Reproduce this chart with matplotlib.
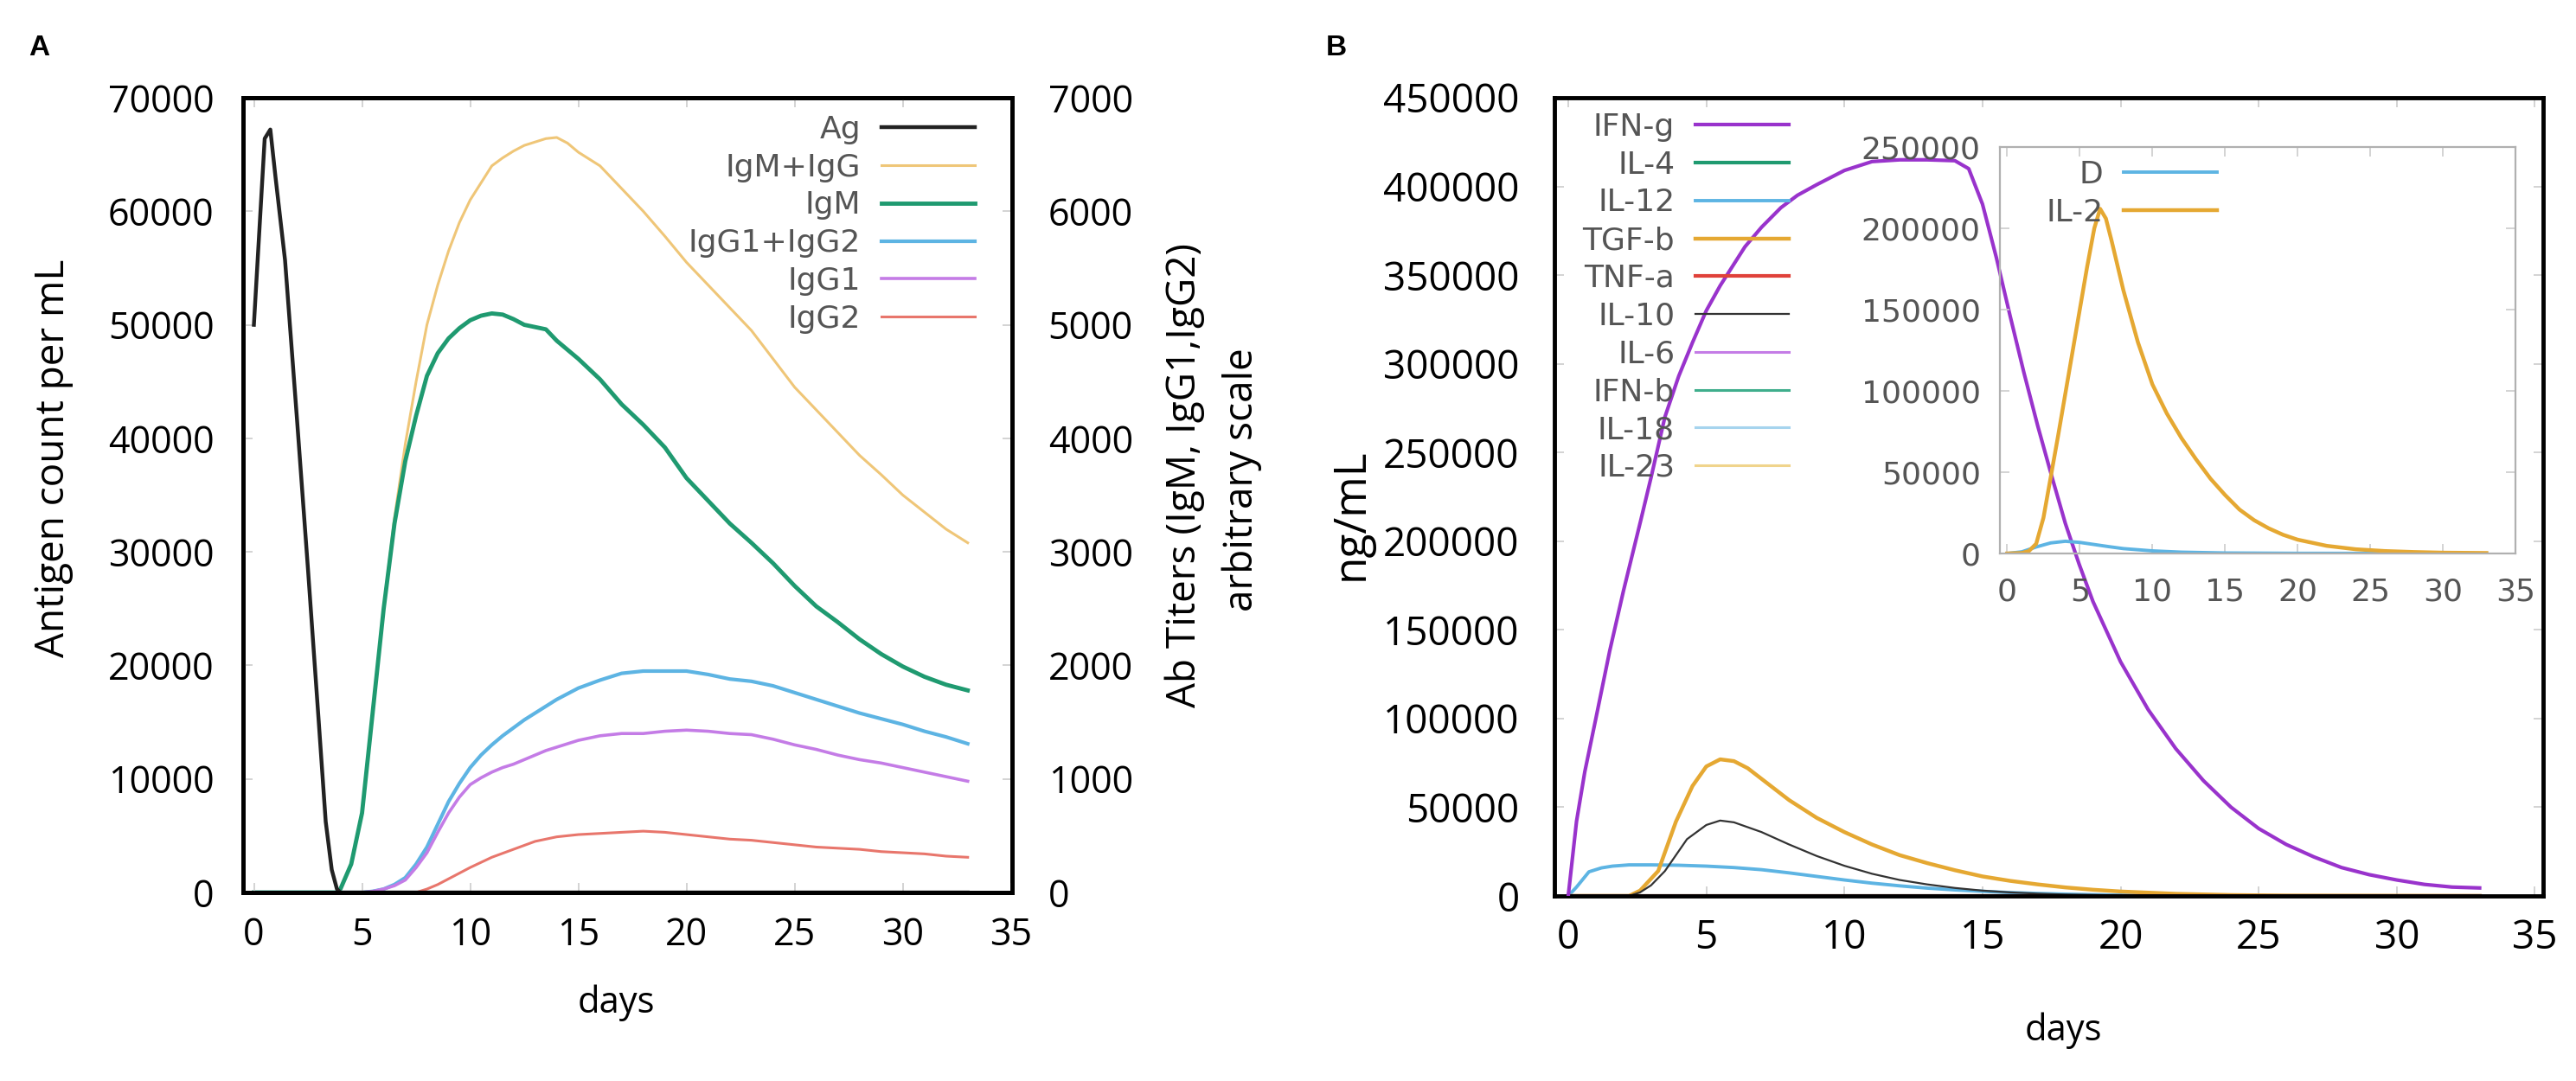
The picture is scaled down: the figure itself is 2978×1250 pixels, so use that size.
import numpy as np
import matplotlib.pyplot as plt

# ---------------- Panel A: antigen and antibody titers ----------------
ag_days = [0, 0.5, 0.76, 1.0, 1.44, 2.0, 2.5, 3.0, 3.32, 3.6, 3.84, 4.0, 33]
ag = [50000, 66400, 67200, 63000, 55700, 41500, 28500, 15000, 6250, 2000, 300, 0, 0]

ab_days = [0, 3.8, 4, 4.5, 5, 5.5, 6, 6.5, 7, 7.5, 8, 8.5, 9, 9.5, 10, 10.5, 11, 11.5,
           12, 12.5, 13, 13.5, 14, 14.5, 15, 16, 17, 18, 19, 20, 21, 22, 23, 24, 25,
           26, 27, 28, 29, 30, 31, 32, 33]
igm_igg = [0, 0, 30, 250, 700, 1600, 2500, 3300, 3950, 4500, 5000, 5350, 5650, 5900, 6100,
           6250, 6400, 6470, 6530, 6580, 6610, 6640, 6650, 6600, 6520, 6400, 6200, 6000,
           5780, 5550, 5350, 5150, 4950, 4700, 4450, 4250, 4050, 3850, 3680, 3500, 3350,
           3200, 3080]
igm = [0, 0, 30, 250, 700, 1600, 2500, 3250, 3800, 4200, 4550, 4750, 4880, 4970, 5040,
       5080, 5100, 5090, 5050, 5000, 4980, 4960, 4860, 4780, 4700, 4520, 4300, 4120, 3920,
       3650, 3450, 3250, 3080, 2900, 2700, 2520, 2380, 2230, 2100, 1990, 1900, 1830, 1780]
igg1_igg2 = [0, 0, 0, 0, 0, 10, 30, 70, 130, 250, 400, 600, 800, 960, 1100, 1210, 1300,
             1380, 1450, 1520, 1580, 1640, 1700, 1750, 1800, 1870, 1930, 1950, 1950, 1950,
             1920, 1880, 1860, 1820, 1760, 1700, 1640, 1580, 1530, 1480, 1420, 1370, 1310]
igg1 = [0, 0, 0, 0, 0, 10, 30, 60, 110, 220, 350, 530, 700, 840, 950, 1010, 1060, 1100,
        1130, 1170, 1210, 1250, 1280, 1310, 1340, 1380, 1400, 1400, 1420, 1430, 1420, 1400,
        1390, 1350, 1300, 1260, 1210, 1170, 1140, 1100, 1060, 1020, 980]
igg2 = [0, 0, 0, 0, 0, 0, 0, 0, 0, 0, 30, 70, 120, 170, 220, 265, 310, 345, 380, 415, 450,
        470, 490, 500, 510, 520, 530, 540, 530, 510, 490, 470, 460, 440, 420, 400, 390, 380,
        360, 350, 340, 320, 310]

# ---------------- Panel B: cytokines ----------------
ifng_days = [0, 0.3, 0.6, 1, 1.5, 2, 2.63, 3, 3.5, 4, 4.5, 5, 5.5, 6.4, 7, 7.7, 8.3, 9, 10,
             11, 12, 13, 14, 14.5, 15, 15.5, 16, 16.5, 17, 17.5, 18, 18.5, 19, 20, 21, 22,
             23, 24, 25, 26, 27, 28, 29, 30, 31, 32, 33]
ifng = [0, 42000, 70000, 100000, 138000, 172000, 212000, 236000, 270000, 293000, 312000,
        330000, 344000, 366000, 377000, 388000, 395000, 401000, 409000, 414000, 415000,
        415000, 414500, 410000, 390000, 360000, 327000, 295000, 265000, 237000, 210000,
        187000, 166000, 132000, 105000, 83000, 65000, 50000, 38000, 29000, 22000, 16000,
        12000, 9000, 6500, 5000, 4500]
tgfb_days = [0, 2.2, 2.6, 3.26, 3.9, 4.5, 5, 5.5, 6, 6.5, 7, 8, 9, 10, 11, 12, 13, 14, 15,
             16, 17, 18, 19, 20, 22, 24, 26, 33]
tgfb = [0, 0, 3000, 14100, 41900, 62000, 73000, 77000, 76000, 72000, 66000, 54000, 44000,
        36000, 29000, 23000, 18500, 14500, 11000, 8500, 6500, 4800, 3500, 2500, 1200, 500,
        200, 0]
il10_days = [0, 2.2, 2.6, 3, 3.5, 4.3, 5, 5.5, 6, 7, 8, 9, 10, 11, 12, 13, 14, 15, 16, 17,
             18, 20, 22, 33]
il10 = [0, 0, 2000, 6000, 14000, 32000, 40000, 42500, 41500, 36000, 29000, 22500, 17000,
        12500, 9000, 6500, 4500, 3000, 2000, 1300, 800, 300, 100, 0]
il12_days = [0, 0.3, 0.75, 1.2, 1.6, 2.2, 3, 4, 5, 6, 7, 8, 9, 10, 11, 12, 13, 14, 15, 16,
             17, 18, 19, 20, 22, 25, 33]
il12 = [0, 5000, 13600, 15800, 16800, 17500, 17500, 17300, 16800, 16000, 14800, 13000,
        11000, 9000, 7200, 5700, 4400, 3400, 2600, 1900, 1400, 1000, 700, 450, 150, 0, 0]
flat_days = [0, 33]
flat = [0, 0]

# inset: D and IL-2
d_days = [0, 1, 2, 3, 4, 5, 6, 7, 8, 10, 12, 15, 20, 33]
d_vals = [0, 1000, 4000, 6500, 7500, 6800, 5500, 4200, 3000, 1600, 800, 300, 100, 0]
il2_days = [0, 1, 1.5, 2, 2.5, 3, 3.5, 4, 4.5, 5, 5.5, 6, 6.4, 6.8, 7.2, 8, 9, 10, 11, 12,
            13, 14, 15, 16, 17, 18, 19, 20, 22, 24, 26, 28, 30, 33]
il2 = [0, 300, 1500, 6000, 22000, 47000, 72000, 98000, 124000, 150000, 176000, 200000,
       212000, 206000, 192000, 162000, 130000, 104000, 86000, 71000, 58000, 46000, 36000,
       27000, 20500, 15500, 11500, 8500, 4700, 2600, 1500, 900, 500, 300]

W, H = 2978, 1250
TICKFONT = 'Open Sans'
LEGFONT = 'DejaVu Sans'
GRAY_TXT = '#555555'


def box(l, t, r, b):
    # pixel box (left, top, right, bottom) -> figure fraction rect
    return [l / W, 1 - b / H, (r - l) / W, (b - t) / H]


def style_frame(ax, lw=3.5, color='black'):
    for s in ax.spines.values():
        s.set_linewidth(lw)
        s.set_color(color)


def gp_legend(ax, anchor_px, handles=None, labels=None):
    # gnuplot-like key: right-aligned text followed by the line sample
    kw = dict(loc='upper right', bbox_to_anchor=(anchor_px[0] / W, 1 - anchor_px[1] / H),
              bbox_transform=fig.transFigure, markerfirst=False, frameon=False,
              borderpad=0, borderaxespad=0, handlelength=3.0, handletextpad=0.65,
              labelspacing=0.27, prop={'family': LEGFONT, 'size': 26}, labelcolor=GRAY_TXT)
    if handles is not None:
        return ax.legend(handles, labels, **kw)
    return ax.legend(**kw)


fig = plt.figure(figsize=(W / 100, H / 100), dpi=100)

# ---------------- A ----------------
axA = fig.add_axes(box(281, 113, 1170, 1032))
axA2 = axA.twinx()
axA.set_zorder(axA2.get_zorder() + 1)
axA.patch.set_visible(False)

lines = []
lines += axA.plot(ag_days, ag, color='#222222', lw=3.2, label='Ag')
lines += axA2.plot(ab_days, igm_igg, color='#efc678', lw=2.2, label='IgM+IgG')
lines += axA2.plot(ab_days, igm, color='#1f9a70', lw=3.5, label='IgM')
lines += axA2.plot(ab_days, igg1_igg2, color='#5db4e3', lw=3.0, label='IgG1+IgG2')
lines += axA2.plot(ab_days, igg1, color='#c47ce6', lw=2.6, label='IgG1')
lines += axA2.plot(ab_days, igg2, color='#e8766c', lw=2.2, label='IgG2')

axA.set_xlim(-0.5, 35.05)
axA.set_ylim(0, 70000)
axA2.set_ylim(0, 7000)
axA.set_xticks(range(0, 36, 5))
axA.set_yticks(range(0, 70001, 10000))
axA2.set_yticks(range(0, 7001, 1000))
axA.tick_params(axis='y', direction='in', length=8, width=1.2, color='#cccccc',
                labelsize=31, pad=24, right=False)
axA.tick_params(axis='x', direction='in', length=8, width=1.2, color='#cccccc',
                labelsize=31, pad=20, top=True)
axA2.tick_params(axis='y', direction='in', length=8, width=1.2, color='#cccccc',
                 labelsize=31, pad=30)
for lab in axA.get_xticklabels() + axA.get_yticklabels() + axA2.get_yticklabels():
    lab.set_fontfamily(TICKFONT)
style_frame(axA)
style_frame(axA2)

gp_legend(axA, (1127, 133), lines, [l.get_label() for l in lines])

fig.text(62 / W, 1 - 530 / H, 'Antigen count per mL', rotation=90, ha='center', va='center',
         fontsize=33, family=TICKFONT)
fig.text(1370 / W, 1 - 550 / H, 'Ab Titers (IgM, IgG1,IgG2)', rotation=90, ha='center',
         va='center', fontsize=33, family=TICKFONT)
fig.text(1436 / W, 1 - 555 / H, 'arbitrary scale', rotation=90, ha='center', va='center',
         fontsize=33, family=TICKFONT)
fig.text(712 / W, 1 - 1160 / H, 'days', ha='center', va='center', fontsize=30,
         family=TICKFONT)
fig.text(45 / W, 1 - 55 / H, 'A', ha='center', va='center', fontsize=24,
         fontweight='bold', family='Liberation Sans')

# ---------------- B ----------------
axB = fig.add_axes(box(1797, 113, 2940, 1036))
axB.plot(ifng_days, ifng, color='#9933cc', lw=3.0, label='IFN-g', zorder=5)
axB.plot(flat_days, flat, color='#1f9a70', lw=3.0, label='IL-4')
axB.plot(il12_days, il12, color='#5db4e3', lw=2.8, label='IL-12')
axB.plot(tgfb_days, tgfb, color='#e5a832', lw=3.2, label='TGF-b')
axB.plot(flat_days, flat, color='#e0413a', lw=3.0, label='TNF-a')
axB.plot(il10_days, il10, color='#333333', lw=1.6, label='IL-10')
axB.plot(flat_days, flat, color='#c47ce6', lw=2.2, label='IL-6')
axB.plot(flat_days, flat, color='#3fae8c', lw=2.2, label='IFN-b')
axB.plot(flat_days, flat, color='#a6d4ee', lw=2.2, label='IL-18')
axB.plot(flat_days, flat, color='#f0d48c', lw=2.2, label='IL-23')

axB.set_xlim(-0.5, 35.3)
axB.set_ylim(0, 450000)
axB.set_xticks(range(0, 36, 5))
axB.set_yticks(range(0, 450001, 50000))
axB.tick_params(axis='y', direction='in', length=8, width=1.2, color='#cccccc',
                labelsize=33, pad=29, right=True)
axB.tick_params(axis='x', direction='in', length=8, width=1.2, color='#cccccc',
                labelsize=33, pad=19, top=True)
for lab in axB.get_xticklabels() + axB.get_yticklabels():
    lab.set_fontfamily(TICKFONT)
style_frame(axB)

gp_legend(axB, (2068, 130))

fig.text(1562 / W, 1 - 595 / H, 'ng/mL', rotation=90, ha='center', va='center',
         fontsize=37, family=TICKFONT)
fig.text(2385 / W, 1 - 1192 / H, 'days', ha='center', va='center', fontsize=30,
         family=TICKFONT)
fig.text(1545 / W, 1 - 55 / H, 'B', ha='center', va='center', fontsize=24,
         fontweight='bold', family='Liberation Sans')

# ---------------- inset (transparent, main curve shows through) ----------------
axI = fig.add_axes(box(2312, 170, 2908, 640))
axI.patch.set_visible(False)
axI.plot(d_days, d_vals, color='#5db4e3', lw=2.8, label='D')
axI.plot(il2_days, il2, color='#e5a832', lw=3.2, label='IL-2')
axI.set_xlim(-0.5, 34.9)
axI.set_ylim(0, 250000)
axI.set_xticks(range(0, 36, 5))
axI.set_yticks(range(0, 250001, 50000))
axI.tick_params(axis='y', direction='in', length=8, width=1.2, color='#cccccc', labelsize=26,
                labelcolor=GRAY_TXT, right=True, pad=16)
axI.tick_params(axis='x', direction='in', length=8, width=1.2, color='#cccccc', labelsize=26,
                labelcolor=GRAY_TXT, top=True, pad=20)
for lab in axI.get_xticklabels() + axI.get_yticklabels():
    lab.set_fontfamily(LEGFONT)
style_frame(axI, lw=1.6, color='#b0b0b0')
gp_legend(axI, (2563, 185))

fig.savefig('out.png', dpi=100)
